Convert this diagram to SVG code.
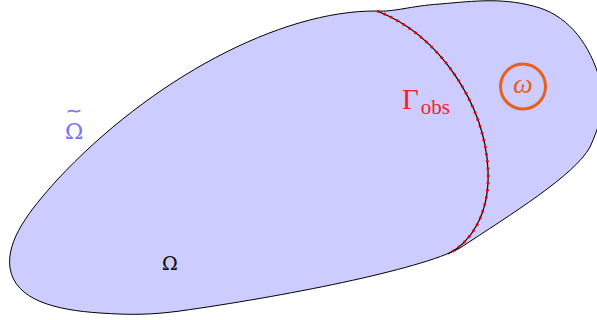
<svg xmlns="http://www.w3.org/2000/svg" width="597" height="320" viewBox="0 0 597 320">
<style>
.dom{fill:#ccccff;stroke:#000;stroke-width:1}
.gam{fill:none;stroke:#000;stroke-width:1.2}
.gamd{fill:none;stroke:#ff0000;stroke-width:2.8;stroke-dasharray:2.2 5}
.lbl{font-family:"Liberation Serif","DejaVu Serif",serif}
.gr{font-family:"DejaVu Serif","Liberation Serif",serif}
</style>
<g id="domain">
<path class="dom" d="M 377 11 C 395 12 410 6 440 4 C 475 1 505 -3 540 8 C 570 18 590 45 600 80 C 606 105 600 125 590 147 C 575 175 510 215 460 248 C 420 270 280 297 180 311 C 150 315 130 315 100 313 C 55 310 15 300 10 268 C 6 240 30 210 57 180 C 150 80 280 10 377 11 Z"/>
</g>
<g id="gamma">
<path class="gam" d="M 377 11 C 440 35 485 105 488 170 C 490 215 470 243 448 254"/>
<path class="gamd" d="M 377 11 C 440 35 485 105 488 170 C 490 215 470 243 448 254"/>
<text class="lbl" x="402" y="109" font-size="29" fill="#ff1a2a">Γ<tspan font-size="21" dx="2" dy="5">obs</tspan></text>
</g>
<g id="omega-small">
<circle cx="523" cy="86.5" r="22.5" fill="none" stroke="#e8601a" stroke-width="3"/>
<text class="lbl" x="523" y="93" font-size="28" font-style="italic" text-anchor="middle" fill="#e8601a">ω</text>
</g>
<g id="omega-tilde">
<text class="gr" x="74" y="138.5" font-size="22" text-anchor="middle" fill="#7373ff">Ω</text>
<text class="gr" transform="translate(74,115) scale(1.9,1.3)" x="0" y="0" font-size="10" text-anchor="middle" fill="#7373ff" stroke="#7373ff" stroke-width="0.4">~</text>
</g>
<g id="omega">
<text class="gr" x="170" y="270" font-size="19" text-anchor="middle" fill="#000">Ω</text>
</g>
</svg>
